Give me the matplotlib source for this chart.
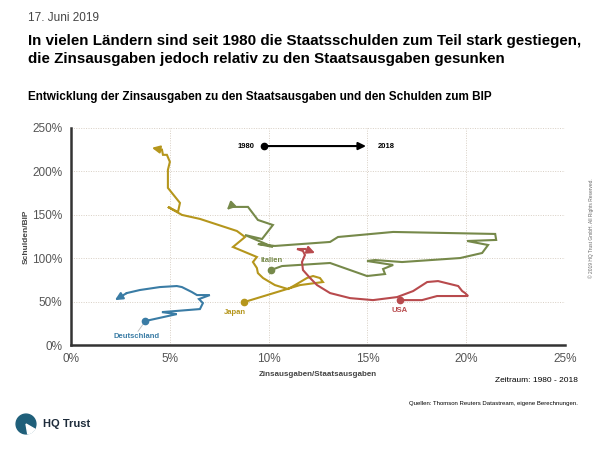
import matplotlib
matplotlib.use("Agg")
import matplotlib.pyplot as plt
from matplotlib.patches import Circle, Wedge

plt.rcParams['font.family'] = ['Liberation Sans', 'DejaVu Sans']
NARROW = ['Liberation Sans Narrow', 'Liberation Sans', 'DejaVu Sans']

# interest expenditure / government expenditure (%), debt / GDP (%), 1980 -> 2018
japan_x = [8.76, 11.59, 12.75, 12.60, 12.25, 11.94, 11.34, 10.98, 10.32, 9.72, 9.46, 9.41, 9.21,
           9.41, 8.20, 8.81, 8.40, 6.53, 5.62, 4.91, 5.42, 5.52, 4.91, 4.91, 5.01, 4.86, 4.66,
           4.61, 4.10]
japan_y = [49.5, 69.1, 72.6, 77.2, 79.5, 77.2, 69.1, 64.5, 69.1, 77.2, 82.9, 88.7, 95.6,
           101.4, 112.9, 124.4, 131.3, 145.2, 149.8, 159.0, 153.2, 163.6, 180.9, 201.6, 210.8,
           218.9, 218.9, 224.7, 227.0]

italy_x = [10.12, 10.68, 13.11, 14.98, 15.89, 15.79, 16.30, 14.98, 15.38, 16.75, 19.69, 20.80,
           21.10, 20.04, 21.51, 21.46, 16.30, 13.51, 13.11, 10.32, 9.46, 10.22, 8.81, 9.67,
           10.22, 9.46, 8.96, 8.05, 7.89]
italy_y = [86.4, 91.0, 94.5, 79.5, 81.8, 87.6, 92.2, 96.8, 97.9, 95.6, 100.2, 106.0, 115.2,
           119.8, 121.0, 127.9, 130.2, 124.4, 118.7, 114.1, 116.4, 112.9, 126.7, 122.1, 138.2,
           144.0, 159.0, 159.0, 155.5]

usa_x = [16.65, 17.76, 18.52, 20.09, 19.94, 19.79, 19.59, 18.57, 18.02, 17.31, 16.50, 15.28,
         14.12, 13.11, 12.45, 12.10, 11.74, 11.69, 11.84, 11.74, 11.44, 11.84, 12.35]
usa_y = [51.8, 51.8, 56.5, 56.5, 59.9, 62.2, 68.0, 73.7, 72.6, 62.2, 55.3, 51.8, 54.1, 59.9,
         69.1, 77.2, 86.4, 95.6, 103.7, 108.3, 110.6, 110.6, 106.0]

de_x = [3.74, 5.36, 4.61, 6.53, 6.68, 6.48, 7.03, 6.38, 6.12, 5.62, 5.36, 4.50, 3.49, 2.83, 2.23]
de_y = [27.6, 35.7, 38.0, 41.5, 48.4, 53.0, 57.6, 57.6, 61.1, 66.8, 68.0, 66.8, 63.4, 59.9, 51.8]

x_ticks = [0, 5, 10, 15, 20, 25]
y_ticks = [0, 50, 100, 150, 200, 250]

fig = plt.figure(figsize=(6, 4.5), dpi=100)
ax = fig.add_axes([0.118, 0.233, 0.824, 0.483])


def draw_path(xs, ys, color):
    ax.plot(xs[:-1], ys[:-1], color=color, lw=1.5, solid_joinstyle='miter', zorder=3)
    ax.plot(xs[0], ys[0], 'o', color=color, ms=4.5, zorder=4)
    ax.annotate("", xy=(xs[-1], ys[-1]), xytext=(xs[-2], ys[-2]),
                arrowprops=dict(arrowstyle="-|>,head_length=0.45,head_width=0.22",
                                color=color, lw=1.5, shrinkA=0, shrinkB=0), zorder=4)


draw_path(japan_x, japan_y, "#b5961c")
draw_path(italy_x, italy_y, "#76894a")
draw_path(usa_x, usa_y, "#b84a4d")
draw_path(de_x, de_y, "#3a7ca5")

# series labels
lab = dict(fontsize=5.5, fontweight='bold', ha='center', va='center', family=NARROW)
ax.text(10.17, 96.8, "Italien", color="#76894a", **lab)
ax.text(8.3, 38, "Japan", color="#b5961c", **lab)
ax.text(16.6, 40.3, "USA", color="#b84a4d", **lab)
ax.text(3.34, 10.4, "Deutschland", color="#3a7ca5", **lab)
ax.plot([3.4, 3.7], [16, 25.5], color="#bbbbbb", lw=0.6)

# time direction legend
ax.plot(9.77, 229, 'o', color='black', ms=4.5)
ax.annotate("", xy=(14.93, 229), xytext=(9.77, 229),
            arrowprops=dict(arrowstyle="-|>,head_length=0.45,head_width=0.22",
                            color='black', lw=1.5, shrinkA=0, shrinkB=0))
ax.text(9.3, 229, "1980", fontsize=5.5, fontweight='bold', ha='right', va='center', family=NARROW)
ax.text(15.5, 229, "2018", fontsize=5.5, fontweight='bold', ha='left', va='center', family=NARROW)

ax.set_xlim(0, 25)
ax.set_ylim(0, 250)
ax.set_xticks(x_ticks)
ax.set_yticks(y_ticks)
ax.set_xticklabels([f"{t}%" for t in x_ticks])
ax.set_yticklabels([f"{t}%" for t in y_ticks])
ax.tick_params(length=0, labelsize=8.5, labelcolor="#555555", pad=6)
ax.grid(True, color="#d8cfc4", linestyle=(0, (1, 1.5)), lw=0.7, zorder=0)
for s in ['top', 'right']:
    ax.spines[s].set_visible(False)
for s in ['left', 'bottom']:
    ax.spines[s].set_color("#333333")
    ax.spines[s].set_linewidth(1.8)

ax.set_xlabel("Zinsausgaben/Staatsausgaben", fontsize=5.8, color="#444444", fontweight='bold',
              family=NARROW, labelpad=4)
ax.set_ylabel("Schulden/BIP", fontsize=6, color="#444444", fontweight='bold',
              family=NARROW, labelpad=2)

# header
fig.text(28 / 600, 1 - 18 / 450, "17. Juni 2019", fontsize=8.5, color="#444444", va='center')
fig.text(28 / 600, 1 - 50 / 450,
         "In vielen Ländern sind seit 1980 die Staatsschulden zum Teil stark gestiegen,\n"
         "die Zinsausgaben jedoch relativ zu den Staatsausgaben gesunken",
         fontsize=10.9, fontweight='bold', va='center', linespacing=1.35)
fig.text(28 / 600, 1 - 97 / 450,
         "Entwicklung der Zinsausgaben zu den Staatsausgaben und den Schulden zum BIP",
         fontsize=8.5, fontweight='bold', va='center')

# footer
fig.text(578 / 600, 1 - 380 / 450, "Zeitraum: 1980 - 2018", fontsize=6, ha='right',
         va='center', family=NARROW)
fig.text(578 / 600, 1 - 404 / 450, "Quellen: Thomson Reuters Datastream, eigene Berechnungen.",
         fontsize=4.3, ha='right', va='center', family=NARROW)
fig.text(591 / 600, 1 - 228 / 450, "© 2019 HQ Trust GmbH. All Rights Reserved.", fontsize=3.5,
         rotation=90, ha='center', va='center', color="#666666")

# logo
logo = fig.add_axes([15 / 600, 1 - 435 / 450, 22 / 600, 22 / 450])
logo.set_xlim(-1, 1)
logo.set_ylim(-1, 1)
logo.set_aspect('equal')
logo.axis('off')
logo.add_patch(Circle((0, 0), 0.9, color="#1f5f7a"))
logo.add_patch(Wedge((0, 0), 0.92, 280, 330, color="white"))
fig.text(43 / 600, 1 - 424 / 450, "HQ Trust", fontsize=8, fontweight='bold', va='center',
         color="#1d2b3a")

fig.savefig("out.png", dpi=100)
